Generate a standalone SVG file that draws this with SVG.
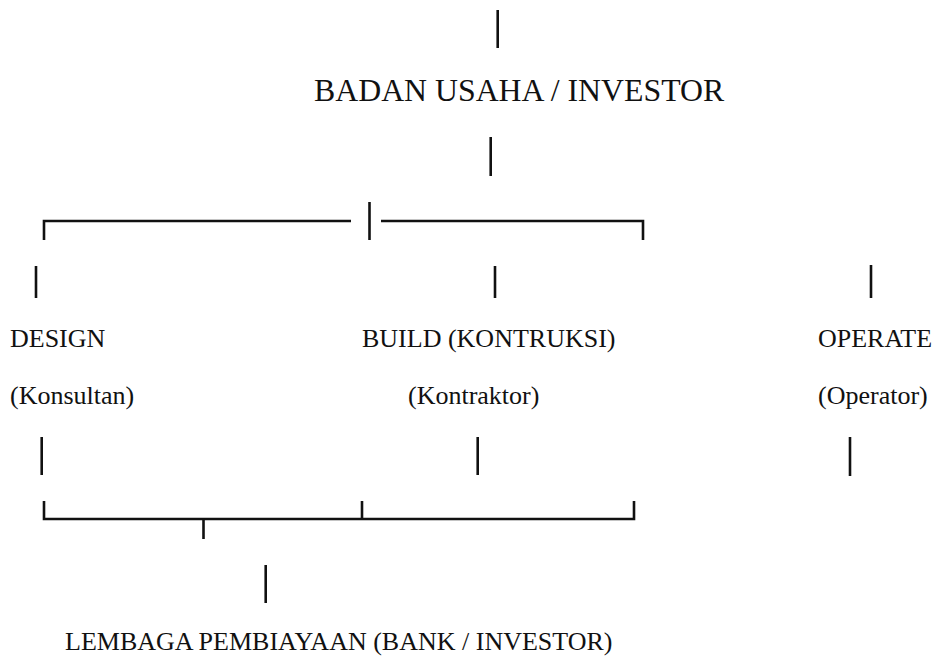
<svg xmlns="http://www.w3.org/2000/svg" width="936" height="658" viewBox="0 0 936 658">
<style>
  text { font-family: "Liberation Serif", "Times New Roman", serif; fill: #111; font-size: 26px; }
  .title { font-size: 31.8px; }
  .ln { stroke: #111; stroke-width: 2.6; fill: none; }
</style>
<rect width="936" height="658" fill="#fff"/>
<g id="connectors">
  <line class="ln" x1="497.7" y1="10" x2="497.7" y2="48"/>
  <line class="ln" x1="490.7" y1="137" x2="490.7" y2="176"/>
  <path class="ln" d="M44 240 V221 H351"/>
  <line class="ln" x1="369.5" y1="202" x2="369.5" y2="240"/>
  <path class="ln" d="M381 221 H643 V240"/>
  <line class="ln" x1="36" y1="266" x2="36" y2="298"/>
  <line class="ln" x1="495" y1="266" x2="495" y2="298"/>
  <line class="ln" x1="871" y1="265" x2="871" y2="298"/>
  <line class="ln" x1="41.7" y1="437" x2="41.7" y2="475"/>
  <line class="ln" x1="477.7" y1="437" x2="477.7" y2="475"/>
  <line class="ln" x1="850" y1="437" x2="850" y2="476"/>
  <path class="ln" d="M44 501 V519 H634 V501"/>
  <line class="ln" x1="362" y1="501" x2="362" y2="519"/>
  <line class="ln" x1="203.5" y1="519" x2="203.5" y2="539"/>
  <line class="ln" x1="265.7" y1="565" x2="265.7" y2="603"/>
</g>
<g id="investor">
  <text class="title" x="314" y="101">BADAN USAHA / INVESTOR</text>
</g>
<g id="design">
  <text x="10" y="347">DESIGN</text>
  <text x="10" y="404">(Konsultan)</text>
</g>
<g id="build">
  <text x="362" y="347">BUILD (KONTRUKSI)</text>
  <text x="408" y="404">(Kontraktor)</text>
</g>
<g id="operate">
  <text x="818" y="347">OPERATE</text>
  <text x="818" y="404">(Operator)</text>
</g>
<g id="lembaga">
  <text x="65" y="650">LEMBAGA PEMBIAYAAN (BANK / INVESTOR)</text>
</g>
</svg>
